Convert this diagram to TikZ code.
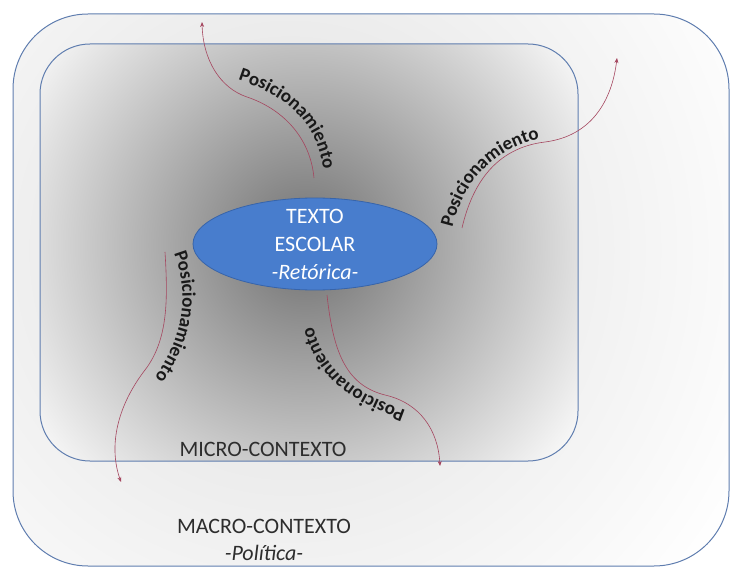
\documentclass[tikz,border=0pt]{standalone}
\usepackage{fontspec}
\setmainfont{Carlito}
\usetikzlibrary{shapes.geometric,decorations.text,arrows.meta}

\definecolor{boxline}{RGB}{95,125,175}
\definecolor{arrowred}{RGB}{165,70,95}
\definecolor{ellfill}{RGB}{72,125,205}
\definecolor{ellline}{RGB}{55,100,170}
\definecolor{txtgray}{RGB}{45,45,45}

\tikzset{
  ctxbox/.style={draw=boxline, line width=1pt},
  posarrow/.style={draw=arrowred, line width=0.6pt, -{Stealth[length=5pt,width=4pt]}},
  postext/.style={decorate, decoration={text along path, text align=center,
      text={|\fontsize{19}{19}\selectfont\bfseries\color{black!90}|Posicionamiento}}},
  ctxlabel/.style={text=txtgray, align=center, font=\fontsize{22}{27}\selectfont}
}

\begin{document}
\begin{tikzpicture}[x=1pt,y=-1pt]
\useasboundingbox (0,0) rectangle (732,567);

% macro-contexto
\begin{scope}
  \clip[rounded corners=75] (13,14) rectangle (729,566);
  \shade[inner color=black!13, outer color=white] (290,250) circle (520);
\end{scope}
\draw[ctxbox, rounded corners=75] (13,14) rectangle (729,566);

% micro-contexto
\begin{scope}
  \clip[rounded corners=50] (40,44) rectangle (578,461);
  \shade[inner color=black!56, outer color=black!3] (305,245) circle (330);
\end{scope}
\draw[ctxbox, rounded corners=50] (40,44) rectangle (578,461);

% texto escolar
\node[ellipse, fill=ellfill, draw=ellline, line width=0.8pt,
      minimum width=244, minimum height=92, inner sep=0pt] (texto) at (315,244) {};
\node[text=white, align=center, font=\fontsize{22}{28}\selectfont] (textolbl) at (texto.center)
  {TEXTO\\ESCOLAR\\\textit{-Retórica-}};

\node[ctxlabel] (micro) at (263,449) {MICRO-CONTEXTO};
\node[ctxlabel] (macro) at (264,540) {MACRO-CONTEXTO\\\textit{-Política-}};

% ends of the arrows
\coordinate (up-in) at (314,178);
\coordinate (up-out) at (202,22);
\coordinate (right-in) at (462,228);
\coordinate (right-out) at (617,58);
\coordinate (left-in) at (165,252);
\coordinate (left-out) at (121,482);
\coordinate (down-in) at (327,295);
\coordinate (down-out) at (440,466);

\draw[posarrow] (up-in) .. controls (310,135) and (280,108) .. (247,97)
  .. controls (220,88) and (203,60) .. (up-out);
\draw[posarrow] (right-in) .. controls (472,185) and (495,148) .. (545,142)
  .. controls (592,136) and (612,100) .. (right-out);
\draw[posarrow] (left-in) .. controls (168,300) and (168,340) .. (145,370)
  .. controls (118,405) and (108,445) .. (left-out);
\draw[posarrow] (down-in) .. controls (333,350) and (345,385) .. (385,395)
  .. controls (420,403) and (438,430) .. (down-out);

% curved labels
\path[postext] (226,76) .. controls (285,93) and (320,120) .. (325,182);
\path[postext] (450,240) .. controls (460,180) and (495,146) .. (552,136);
\path[postext] (171,246) .. controls (188,285) and (190,332) .. (150,384);
\path[postext] (414,414) .. controls (365,396) and (323,380) .. (311,318);
\end{tikzpicture}
\end{document}
